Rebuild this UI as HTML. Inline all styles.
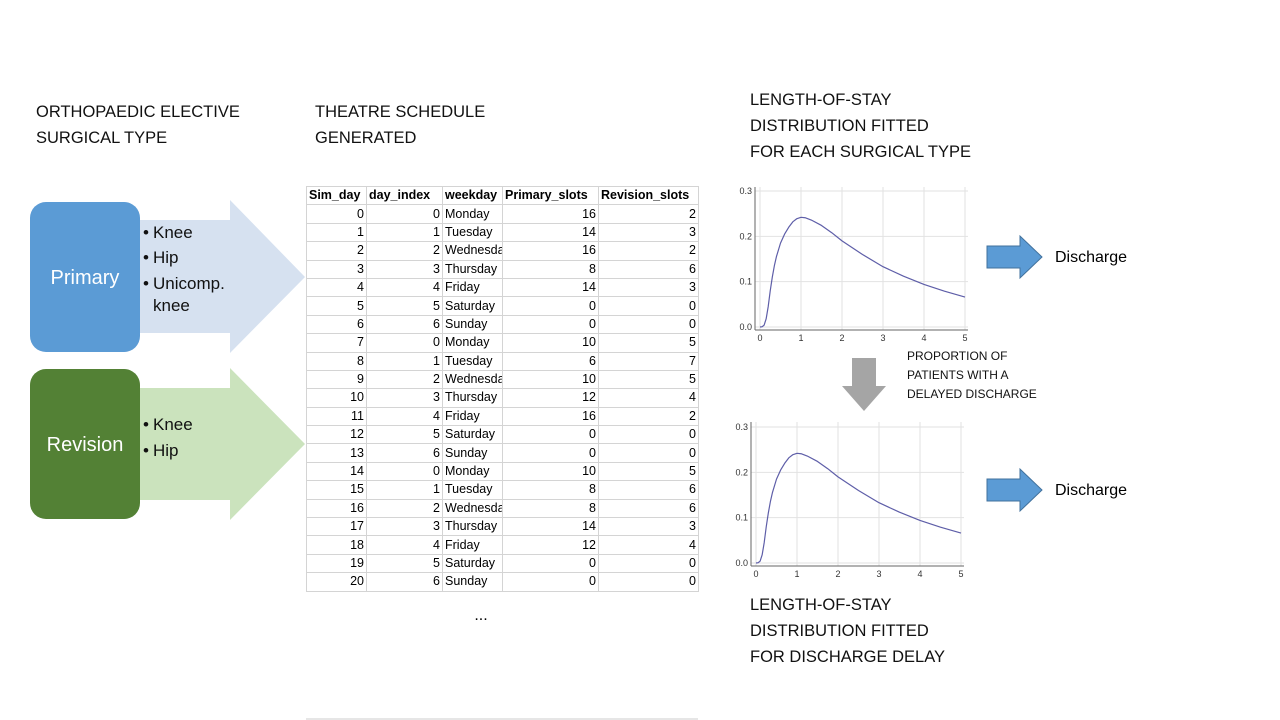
<!DOCTYPE html>
<html><head><meta charset="utf-8"><style>
body{margin:0;width:1280px;height:720px;background:#fff;position:relative;overflow:hidden;font-family:"Liberation Sans",sans-serif;}
.t{position:absolute;font-size:16.5px;line-height:26px;color:#111;letter-spacing:0}
table{position:absolute;left:306px;top:186px;width:392px;border-collapse:collapse;font-size:12.5px;font-family:"Liberation Sans",sans-serif;table-layout:fixed}
td{border:1px solid #d4d4d4;height:17.4px;padding:0 2px;white-space:nowrap;overflow:hidden;line-height:17px}
td.n{text-align:right}
tr.h td{font-weight:bold}
</style></head><body>
<div class="t" style="left:36px;top:99px">ORTHOPAEDIC ELECTIVE<br>SURGICAL TYPE</div>
<div class="t" style="left:315px;top:99px">THEATRE SCHEDULE<br>GENERATED</div>
<div class="t" style="left:750px;top:87px">LENGTH-OF-STAY<br>DISTRIBUTION FITTED<br>FOR EACH SURGICAL TYPE</div>
<div class="t" style="left:750px;top:592px">LENGTH-OF-STAY<br>DISTRIBUTION FITTED<br>FOR DISCHARGE DELAY</div>
<div class="t" style="left:907px;top:347px;font-size:12px;line-height:19px">PROPORTION OF<br>PATIENTS WITH A<br>DELAYED DISCHARGE</div>

<svg width="1280" height="720" style="position:absolute;left:0;top:0">
<polygon points="140,220 230,220 230,200 305,277 230,353 230,333 140,333" fill="#d6e1f0"/>
<polygon points="140,388 230,388 230,368 305,444 230,520 230,500 140,500" fill="#cbe3bd"/>
<rect x="30" y="202" width="110" height="150" rx="16" fill="#5b9bd5"/>
<rect x="30" y="369" width="110" height="150" rx="16" fill="#538135"/>
<text x="85" y="284" font-size="20" fill="#fff" text-anchor="middle" font-family="Liberation Sans">Primary</text>
<text x="85" y="451" font-size="20" fill="#fff" text-anchor="middle" font-family="Liberation Sans">Revision</text>
<g font-size="17" font-family="Liberation Sans" fill="#111">
<text x="143" y="238">•</text><text x="153" y="238">Knee</text>
<text x="143" y="263">•</text><text x="153" y="263">Hip</text>
<text x="143" y="289">•</text><text x="153" y="289">Unicomp.</text><text x="153" y="311">knee</text>
<text x="143" y="430">•</text><text x="153" y="430">Knee</text>
<text x="143" y="456">•</text><text x="153" y="456">Hip</text>
</g>
<polygon points="987,246 1020,246 1020,236 1042,257 1020,278 1020,268 987,268" fill="#5b9bd5" stroke="#41719c"/>
<polygon points="987,479 1020,479 1020,469 1042,490 1020,511 1020,501 987,501" fill="#5b9bd5" stroke="#41719c"/>
<text x="1055" y="262" font-size="16" font-family="Liberation Sans">Discharge</text>
<text x="1055" y="495" font-size="16" font-family="Liberation Sans">Discharge</text>
<polygon points="852,358 876,358 876,386 886,386 864,411 842,386 852,386" fill="#a5a5a5"/>
<text x="481" y="620" font-size="16" text-anchor="middle">...</text>
<line x1="306" y1="719" x2="698" y2="719" stroke="#ccc"/>
<g id="c1"></g><g id="c2"></g>
</svg>

<table>
<colgroup><col style="width:60px"><col style="width:76px"><col style="width:60px"><col style="width:96px"><col style="width:100px"></colgroup>
<tbody id="tb"><tr class="h"><td>Sim_day</td><td>day_index</td><td>weekday</td><td>Primary_slots</td><td>Revision_slots</td></tr></tbody>
</table>

<script>
const days=["Monday","Tuesday","Wednesda","Thursday","Friday","Saturday","Sunday"];
const primarySlots=[16,14,16,8,14,0,0,10,6,10,12,16,0,0,10,8,8,14,12,0,0];
const revisionSlots=[2,3,2,6,3,0,0,5,7,5,4,2,0,0,5,6,6,3,4,0,0];
const tb=document.getElementById('tb');
primarySlots.forEach((p,i)=>{
 const tr=document.createElement('tr');
 
 
 tr.innerHTML=`<td class="n">${i}</td><td class="n">${i%7}</td><td>${days[i%7]}</td><td class="n">${p}</td><td class="n">${revisionSlots[i]}</td>`;
 tb.appendChild(tr);
});

const losX=[0,0.05,0.1,0.15,0.2,0.25,0.3,0.35,0.4,0.5,0.6,0.7,0.8,0.9,1,1.1,1.25,1.5,1.75,2,2.5,3,3.5,4,4.5,5];
const losY=[0,0.0005,0.004,0.018,0.045,0.08,0.11,0.135,0.155,0.185,0.205,0.22,0.232,0.239,0.242,0.241,0.236,0.224,0.208,0.19,0.16,0.133,0.112,0.094,0.079,0.066];
const xTicks=[0,1,2,3,4,5];
const yTicks=[0.0,0.1,0.2,0.3];
const NS="http://www.w3.org/2000/svg";
function chart(g,name,L,R,T,B,x0,x5,y0,y3){
 const sx=v=>x0+(x5-x0)*v/5, sy=v=>y0-(y0-y3)*v/0.3;
 function el(t,a){const e=document.createElementNS(NS,t);for(const k in a)e.setAttribute(k,a[k]);g.appendChild(e);return e;}
 
 
 xTicks.forEach(t=>{el('line',{x1:sx(t),x2:sx(t),y1:T,y2:B,stroke:'#e2e2e2'});const tx=el('text',{x:sx(t),y:B+11,'font-size':9,'text-anchor':'middle',fill:'#333'});tx.textContent=t;});
 yTicks.forEach(t=>{el('line',{x1:L,x2:R,y1:sy(t),y2:sy(t),stroke:'#e2e2e2'});const tx=el('text',{x:L-3,y:sy(t)+3,'font-size':9,'text-anchor':'end',fill:'#333'});tx.textContent=t.toFixed(1);});
 el('line',{x1:L,x2:L,y1:T,y2:B,stroke:'#666'});
 el('line',{x1:L,x2:R,y1:B,y2:B,stroke:'#666'});
 const p=el('polyline',{points:losX.map((x,i)=>sx(x)+','+sy(losY[i])).join(' '),fill:'none',stroke:'#5e5ea8','stroke-width':1.2,'stroke-linejoin':'round'});
 
 
}
chart(document.getElementById('c1'),'los-chart',755,968,187,330,760,965,327,191);
chart(document.getElementById('c2'),'delay-chart',751,964,422,566,756,961,563,427);
</script>
</body></html>
